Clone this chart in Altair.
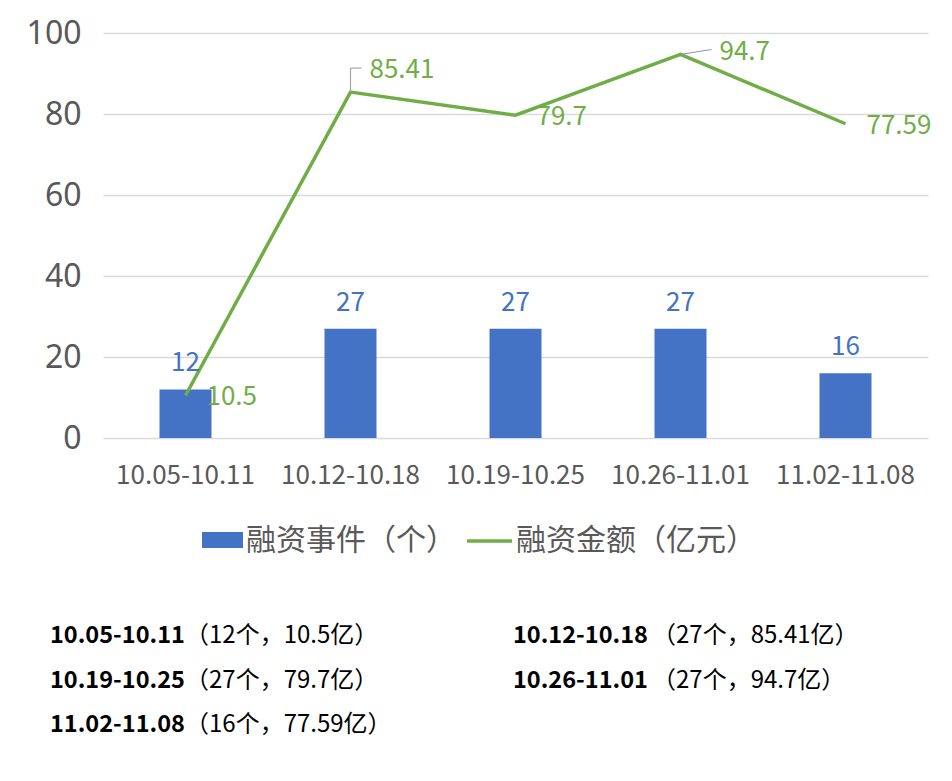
import altair as alt
import pandas as pd

categories = ["10.05-10.11", "10.12-10.18", "10.19-10.25", "10.26-11.01", "11.02-11.08"]
events = [12, 27, 27, 27, 16]
amounts = [10.5, 85.41, 79.7, 94.7, 77.59]
series_names = ["融资事件（个）", "融资金额（亿元）"]
y_ticks = [0, 20, 40, 60, 80, 100]

BLUE = "#4472C4"
GREEN = "#70AD47"
GRAY = "#595959"
FONT = "Noto Sans CJK SC"

df = pd.DataFrame({"cat": categories, "events": events, "amount": amounts})

W, H = 825, 405
xenc = alt.X("cat:N", sort=categories, title=None,
             scale=alt.Scale(paddingInner=0, paddingOuter=0),
             axis=alt.Axis(labelAngle=0, labelFontSize=26, labelColor=GRAY, labelFont=FONT,
                           labelPadding=24, domain=False, ticks=False, grid=False))
yscale = alt.Scale(domain=[0, 100])
yenc = alt.Y("events:Q", scale=yscale, title=None,
             axis=alt.Axis(values=y_ticks, labelFontSize=32, labelColor=GRAY, labelFont="Noto Sans",
                           labelPadding=22, domain=False, ticks=False, grid=True,
                           gridColor="#D9D9D9", gridWidth=1.5))

base = alt.Chart(df)
bars = base.mark_bar(size=52, color=BLUE).encode(x=xenc, y=yenc)
bar_labels = base.mark_text(baseline="bottom", dy=-13, fontSize=26, font=FONT, color=BLUE).encode(
    x=alt.X("cat:N", sort=categories), y=alt.Y("events:Q", scale=yscale), text="events:Q")
line = base.mark_line(color=GREEN, strokeWidth=3.5).encode(
    x=alt.X("cat:N", sort=categories), y=alt.Y("amount:Q", scale=yscale))

amt_y = alt.Y("amount:Q", scale=yscale)
amt_x = alt.X("cat:N", sort=categories)
lab_normal = base.transform_filter(
    (alt.datum.cat != categories[1]) & (alt.datum.cat != categories[3])
).mark_text(align="left", baseline="middle", dx=21, dy=2, fontSize=26, font=FONT, color=GREEN).encode(
    x=amt_x, y=amt_y, text="amount:Q")
lab_up = base.transform_filter(alt.datum.cat == categories[1]).mark_text(
    align="left", baseline="middle", dx=19, dy=-22, fontSize=26, font=FONT, color=GREEN).encode(
    x=amt_x, y=amt_y, text="amount:Q")
lab_right = base.transform_filter(alt.datum.cat == categories[3]).mark_text(
    align="left", baseline="middle", dx=39, dy=-2, fontSize=26, font=FONT, color=GREEN).encode(
    x=amt_x, y=amt_y, text="amount:Q")

lead1a = base.transform_filter(alt.datum.cat == categories[1]).mark_rule(
    color="#A6A6A6", strokeWidth=1.2, y2Offset=-24).encode(x=amt_x, y=amt_y, y2="amount:Q")
lead1b = base.transform_filter(alt.datum.cat == categories[1]).mark_rule(
    color="#A6A6A6", strokeWidth=1.2, yOffset=-24, y2Offset=-24, x2Offset=11).encode(
    x=amt_x, x2="cat:N", y=amt_y, y2="amount:Q")
lead2 = base.transform_filter(alt.datum.cat == categories[3]).mark_rule(
    color="#8497B0", strokeWidth=1, x2Offset=31, y2Offset=-5).encode(
    x=amt_x, x2="cat:N", y=amt_y, y2="amount:Q")

# legend
leg_df = pd.DataFrame({"name": series_names})
leg_rect = alt.Chart(leg_df).transform_filter(alt.datum.name == series_names[0]).mark_rect(color=BLUE).encode(
    x=alt.value(99), x2=alt.value(140), y=alt.value(499), y2=alt.value(515))
leg_line = alt.Chart(leg_df).transform_filter(alt.datum.name == series_names[1]).mark_rule(
    color=GREEN, strokeWidth=3.5).encode(x=alt.value(364), x2=alt.value(409), y=alt.value(508))
leg_t1 = alt.Chart(leg_df).transform_filter(alt.datum.name == series_names[0]).mark_text(
    align="left", baseline="middle", fontSize=30, font=FONT, color=GRAY).encode(
    x=alt.value(143), y=alt.value(508), text="name:N")
leg_t2 = alt.Chart(leg_df).transform_filter(alt.datum.name == series_names[1]).mark_text(
    align="left", baseline="middle", fontSize=30, font=FONT, color=GRAY).encode(
    x=alt.value(413), y=alt.value(508), text="name:N")

# notes
notes = pd.DataFrame({
    "cat": categories,
    "detail": [f"（{e}个，{a}亿）" for e, a in zip(events, amounts)],
})
notes["i"] = range(len(notes))
notes_base = alt.Chart(notes).transform_calculate(
    col="datum.i % 2", row="floor(datum.i / 2)"
).transform_calculate(
    bx="-53 + datum.col * 463", nx="82 + datum.col * 467", py="603 + datum.row * 44.5"
)
note_bold = notes_base.mark_text(align="left", baseline="middle", fontSize=23.5, fontWeight="bold",
                                 font=FONT, color="#000000").encode(
    x=alt.X("bx:Q", scale=None), y=alt.Y("py:Q", scale=None), text="cat:N")
note_norm = notes_base.mark_text(align="left", baseline="middle", fontSize=24,
                                 font=FONT, color="#000000").encode(
    x=alt.X("nx:Q", scale=None), y=alt.Y("py:Q", scale=None), text="detail:N")

chart = alt.layer(
    bars, line, bar_labels, lead1a, lead1b, lead2, lab_normal, lab_up, lab_right,
    leg_rect, leg_line, leg_t1, leg_t2, note_bold, note_norm
).properties(
    width=W, height=H,
    background="#FFFFFF",
    autosize=alt.AutoSizeParams(type="none"),
    padding={"left": 95, "top": 25, "right": 16, "bottom": 335},
).configure_view(stroke=None)

chart.save("out.html", embed_options={"renderer": "svg", "actions": False})
